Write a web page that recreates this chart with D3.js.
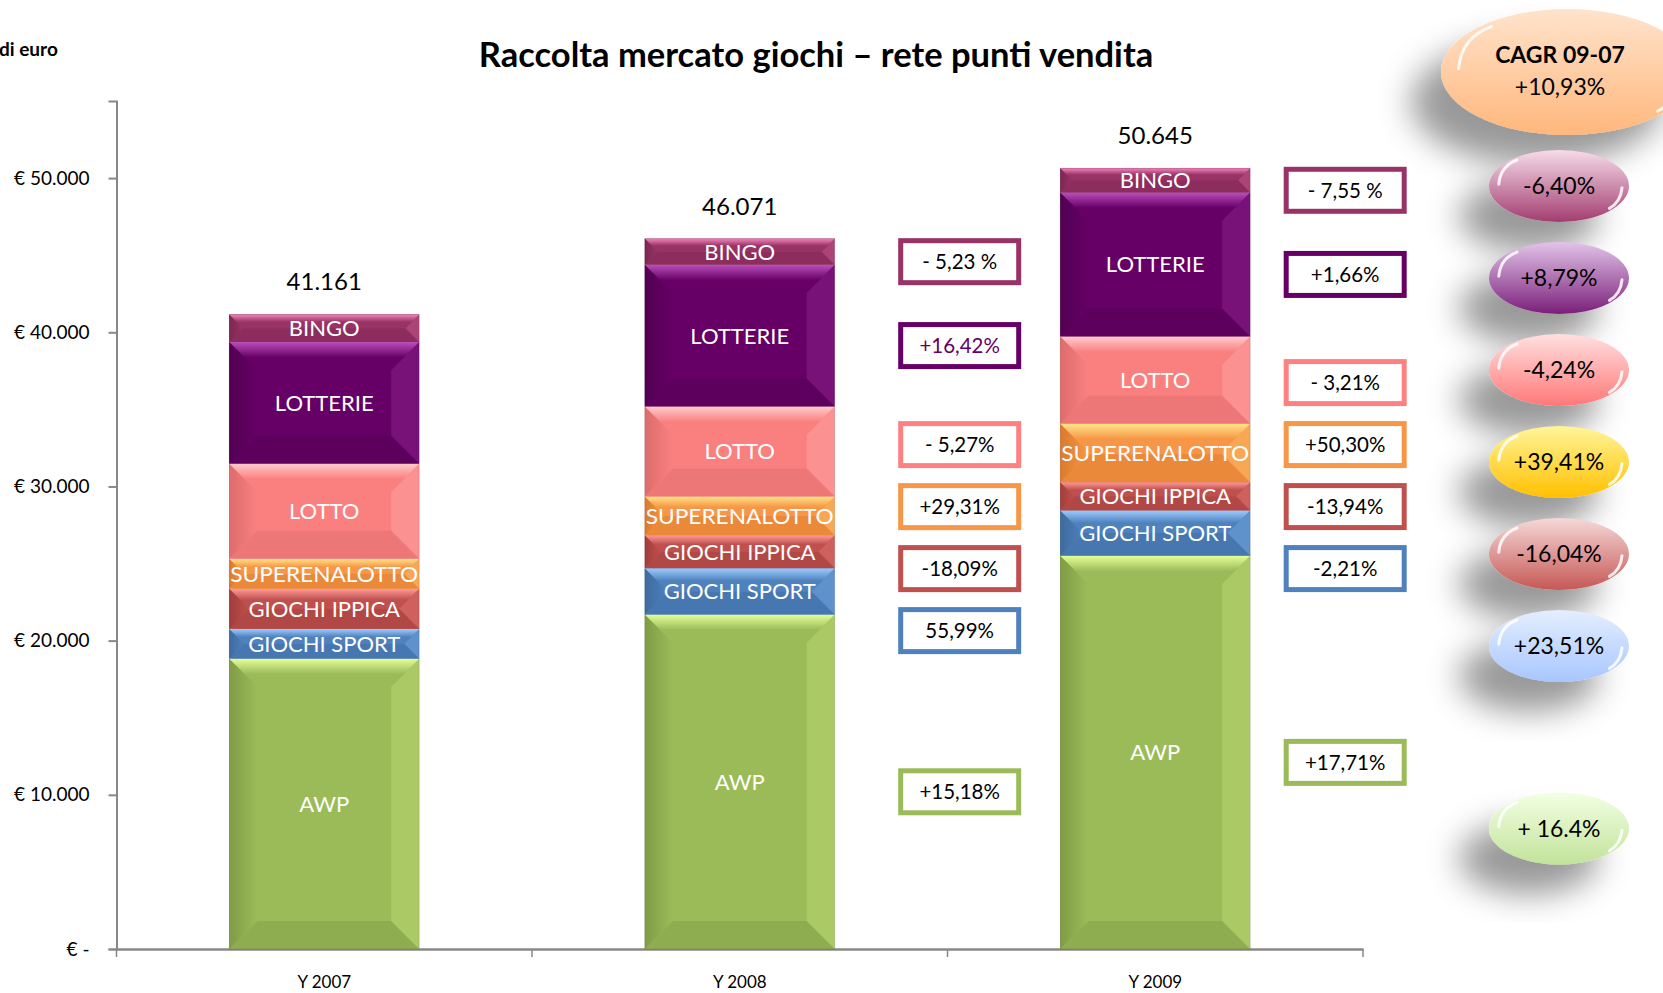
<!DOCTYPE html>
<html>
<head>
<meta charset="utf-8">
<script src="https://cdn.jsdelivr.net/npm/d3@7"></script>
<style>
  body { margin: 0; background: #fff; }
  svg { display: block; font-family: Lato, "Open Sans", sans-serif; }
</style>
</head>
<body>
<svg id="chart" width="1663" height="993"></svg>
<script>
// years on the x axis
var years = ["Y 2007", "Y 2008", "Y 2009"];
// stack order, bottom to top
var games = ["AWP", "GIOCHI SPORT", "GIOCHI IPPICA", "SUPERENALOTTO", "LOTTO", "LOTTERIE", "BINGO"];

// raccolta, milioni di euro
var awp = [18830, 21690, 25505];
var giochiSport = [1930, 3010, 2940];
var giochiIppica = [2600, 2130, 1835];
var superenalotto = [1950, 2520, 3790];
var lotto = [6170, 5840, 5660];
var lotterie = [7890, 9190, 9340];
var bingo = [1790, 1695, 1575];
var totals = [41161, 46071, 50645];

// variation labels, same order as games
var change2008 = ["+15,18%", "55,99%", "-18,09%", "+29,31%", "- 5,27%", "+16,42%", "- 5,23 %"];
var change2009 = ["+17,71%", "-2,21%", "-13,94%", "+50,30%", "- 3,21%", "+1,66%", "- 7,55 %"];
var cagr = ["+ 16.4%", "+23,51%", "-16,04%", "+39,41%", "-4,24%", "+8,79%", "-6,40%"];
var cagrTotal = "+10,93%";

var yTicks = [0, 10000, 20000, 30000, 40000, 50000];

var series = [awp, giochiSport, giochiIppica, superenalotto, lotto, lotterie, bingo];

var colors = {
  "AWP":           { base: "#9bbb59", light: "#e4ff98", dark: "#7f9c45", box: "#9bbb59", b1: "#f2ffe4", b2: "#c3e39a" },
  "GIOCHI SPORT":  { base: "#4f81bd", light: "#9cccff", dark: "#3e6a9f", box: "#4f81bd", b1: "#e4eeff", b2: "#a8c6ff" },
  "GIOCHI IPPICA": { base: "#c0504d", light: "#ff9a98", dark: "#a03e3b", box: "#c0504d", b1: "#f6d8d8", b2: "#c55855" },
  "SUPERENALOTTO": { base: "#f79646", light: "#ffe487", dark: "#d97a2d", box: "#f79646", b1: "#fff59a", b2: "#ffc000" },
  "LOTTO":         { base: "#fa8080", light: "#ffcccc", dark: "#dd6c6c", box: "#ff8080", b1: "#ffe0e0", b2: "#ff7878" },
  "LOTTERIE":      { base: "#660066", light: "#bb4fbb", dark: "#520052", box: "#660066", b1: "#e2c4e8", b2: "#7a1f7a" },
  "BINGO":         { base: "#993366", light: "#f285bb", dark: "#7c2651", box: "#993366", b1: "#f6dcea", b2: "#a23d70" }
};

var svg = d3.select("#chart");
var margin = { left: 116.5, right: 1363, top: 101, bottom: 949 };

var x = d3.scaleBand().domain(years).range([margin.left, margin.right]).paddingInner(0.543).paddingOuter(0.2715);
var y = d3.scaleLinear().domain([0, 55000]).range([margin.bottom, margin.top]);

var defs = svg.append("defs");

// gradients for bevel sides and bubbles
games.forEach(function(g, i) {
  var c = colors[g];
  var top = defs.append("linearGradient").attr("id", "top" + i).attr("x1", 0).attr("y1", 0).attr("x2", 0).attr("y2", 1);
  top.append("stop").attr("offset", 0).attr("stop-color", c.light);
  top.append("stop").attr("offset", 0.55).attr("stop-color", c.base);
  top.append("stop").attr("offset", 1).attr("stop-color", c.base);
  var left = defs.append("linearGradient").attr("id", "left" + i).attr("x1", 0).attr("y1", 0).attr("x2", 1).attr("y2", 0);
  left.append("stop").attr("offset", 0).attr("stop-color", c.dark);
  left.append("stop").attr("offset", 1).attr("stop-color", c.base);
  var bub = defs.append("linearGradient").attr("id", "bub" + i).attr("x1", 0).attr("y1", 0).attr("x2", 0).attr("y2", 1);
  bub.append("stop").attr("offset", 0).attr("stop-color", c.b1);
  bub.append("stop").attr("offset", 1).attr("stop-color", c.b2);
});
var cg = defs.append("linearGradient").attr("id", "bubCagr").attr("x1", 0).attr("y1", 0).attr("x2", 0).attr("y2", 1);
cg.append("stop").attr("offset", 0).attr("stop-color", "#ffe3cc");
cg.append("stop").attr("offset", 1).attr("stop-color", "#ffb77c");

var shadow = defs.append("filter").attr("id", "shadow").attr("x", "-80%").attr("y", "-80%").attr("width", "260%").attr("height", "260%");
shadow.append("feGaussianBlur").attr("in", "SourceAlpha").attr("stdDeviation", 16).attr("result", "blur");
shadow.append("feOffset").attr("in", "blur").attr("dx", -30).attr("dy", 30).attr("result", "off");
shadow.append("feFlood").attr("flood-color", "#000").attr("flood-opacity", 0.4);
shadow.append("feComposite").attr("in2", "off").attr("operator", "in").attr("result", "sh");
var merge = shadow.append("feMerge");
merge.append("feMergeNode").attr("in", "sh");
merge.append("feMergeNode").attr("in", "SourceGraphic");

// title
svg.append("text").attr("x", 816).attr("y", 67).attr("text-anchor", "middle")
  .style("font-weight", "bold").style("font-size", "34.5px").text("Raccolta mercato giochi \u2013 rete punti vendita");
svg.append("text").attr("x", -1).attr("y", 56)
  .style("font-weight", "bold").style("font-size", "19px").text("di euro");

// axes
var fmt = function(v) { return v === 0 ? "\u20ac -" : "\u20ac " + d3.format(",")(v).replace(/,/g, "."); };
var yAxis = svg.append("g").attr("transform", "translate(" + margin.left + ",0)")
  .call(d3.axisLeft(y).tickValues(yTicks).tickSize(8).tickPadding(19).tickFormat(fmt));
yAxis.select(".domain").attr("stroke", "#888").attr("stroke-width", 2);
yAxis.selectAll(".tick line").attr("stroke", "#888").attr("stroke-width", 2);
yAxis.selectAll(".tick text").style("font-size", "19px").style("font-family", "Lato, sans-serif").attr("fill", "#000");

var xAxis = svg.append("g").attr("transform", "translate(0," + margin.bottom + ")")
  .call(d3.axisBottom(x).tickSize(0).tickPadding(27));
xAxis.select(".domain").attr("stroke", "#888").attr("stroke-width", 2.5);
xAxis.selectAll(".tick text").style("font-size", "17px").style("font-family", "Lato, sans-serif").attr("fill", "#000");
var bounds = [margin.left].concat(years.map(function(d) { return x(d) + x.bandwidth() + x.step() * x.paddingInner() / 2; }));
bounds[bounds.length - 1] = margin.right;
xAxis.selectAll(".sep").data(bounds).enter().append("line")
  .attr("x1", function(d) { return d; }).attr("x2", function(d) { return d; })
  .attr("y1", 0).attr("y2", 8).attr("stroke", "#888").attr("stroke-width", 1.5);

// stacked data
var rows = years.map(function(yr, j) {
  var r = { year: yr };
  games.forEach(function(g, i) { r[g] = series[i][j]; });
  return r;
});
var stack = d3.stack().keys(games)(rows);

var bevel = 28;
function drawSegment(sel, x0, y0, w, h, i) {
  var c = colors[games[i]];
  var b = Math.min(bevel, h / 2, w / 2);
  var x1 = x0 + w, y1 = y0 + h;
  sel.append("rect").attr("x", x0).attr("y", y0).attr("width", w).attr("height", h).attr("fill", c.base);
  sel.append("polygon").attr("points", [[x0, y1], [x1, y1], [x1 - b, y1 - b], [x0 + b, y1 - b]].join(" "))
    .attr("fill", c.dark).attr("opacity", 0.45);
  sel.append("polygon").attr("points", [[x1, y0], [x1, y1], [x1 - b, y1 - b], [x1 - b, y0 + b]].join(" "))
    .attr("fill", c.light).attr("opacity", 0.22);
  sel.append("polygon").attr("points", [[x0, y0], [x0, y1], [x0 + b, y1 - b], [x0 + b, y0 + b]].join(" "))
    .attr("fill", "url(#left" + i + ")");
  sel.append("polygon").attr("points", [[x0, y0], [x1, y0], [x1 - b, y0 + b], [x0 + b, y0 + b]].join(" "))
    .attr("fill", "url(#top" + i + ")");
}

var bars = svg.append("g");
stack.forEach(function(layer, i) {
  layer.forEach(function(d, j) {
    var g = bars.append("g");
    var x0 = x(years[j]), w = x.bandwidth();
    var yt = y(d[1]), h = y(d[0]) - y(d[1]);
    drawSegment(g, x0, yt, w, h, i);
    g.append("text").attr("x", x0 + w / 2).attr("y", yt + h / 2).attr("dy", "0.36em")
      .attr("text-anchor", "middle").attr("fill", "#fff").style("font-size", "22px")
      .attr("textLength", games[i] === "SUPERENALOTTO" ? w - 2 : null)
      .attr("lengthAdjust", "spacingAndGlyphs")
      .text(games[i]);
  });
});
bars.selectAll(".outline").data(years).enter().append("rect")
  .attr("x", function(d) { return x(d); }).attr("y", function(d, j) { return y(totals[j]); })
  .attr("width", x.bandwidth()).attr("height", function(d, j) { return y(0) - y(totals[j]); })
  .attr("fill", "none").attr("stroke", "#000").attr("stroke-opacity", 0.12);

// totals
svg.selectAll(".total").data(totals).enter().append("text")
  .attr("x", function(d, j) { return x(years[j]) + x.bandwidth() / 2; })
  .attr("y", function(d) { return y(d) - 24; })
  .attr("text-anchor", "middle").style("font-size", "24px")
  .text(function(d) { return d3.format(",")(d).replace(/,/g, "."); });

// push label centres apart so they keep a minimum gap
function spread(centres, gap) {
  var groups = centres.map(function(c) { return { sum: c, n: 1, start: c }; });
  var changed = true;
  while (changed) {
    changed = false;
    for (var k = 0; k < groups.length - 1; k++) {
      var a = groups[k], b = groups[k + 1];
      var aEnd = a.start + (a.n - 1) * gap;
      if (b.start - aEnd < gap) {
        var g = { sum: a.sum + b.sum, n: a.n + b.n };
        var sumOff = 0;
        for (var m = 0; m < g.n; m++) sumOff += m * gap;
        g.start = (g.sum - sumOff) / g.n;
        groups.splice(k, 2, g);
        changed = true;
        break;
      }
    }
  }
  var out = [];
  groups.forEach(function(g) { for (var m = 0; m < g.n; m++) out.push(g.start + m * gap); });
  return out;
}

// boxes with the yearly variation (top to bottom order for spreading)
function boxes(labels, j, cx) {
  var mids = stack.map(function(layer) { return (y(layer[j][0]) + y(layer[j][1])) / 2; });
  var order = d3.range(games.length).reverse();
  var placed = spread(order.map(function(i) { return mids[i] + 10; }), 62);
  var g = svg.append("g");
  order.forEach(function(i, k) {
    var cy = placed[k];
    g.append("rect").attr("x", cx - 59).attr("y", cy - 21).attr("width", 118).attr("height", 42)
      .attr("fill", "#fff").attr("stroke", colors[games[i]].box).attr("stroke-width", 5);
    g.append("text").attr("x", cx).attr("y", cy).attr("dy", "0.36em").attr("text-anchor", "middle")
      .style("font-size", "20.5px").attr("fill", games[i] === "LOTTERIE" && j === 1 ? "#660066" : "#000")
      .text(labels[i]);
  });
}
boxes(change2008, 1, x(years[1]) + x.bandwidth() + 125);
boxes(change2009, 2, x(years[2]) + x.bandwidth() + 95);

// CAGR bubbles
var bx = 1559;
var bubbles = svg.append("g");
var cagrMids = stack.map(function(layer) { return (y(layer[2][0]) + y(layer[2][1])) / 2; });
var bOrder = d3.range(games.length).reverse();
var bPlaced = spread(bOrder.map(function(i) { return cagrMids[i] + 15; }), 92);
var shift = 186 - bPlaced[0];
function bubble(cx, cy, rx, ry, fill) {
  var g = bubbles.append("g");
  g.append("ellipse").attr("cx", cx).attr("cy", cy).attr("rx", rx).attr("ry", ry)
    .attr("fill", fill).attr("filter", "url(#shadow)");
  g.append("path").attr("d", "M" + (cx - rx * 0.86) + "," + (cy - ry * 0.05) +
      " Q" + (cx - rx * 0.84) + "," + (cy - ry * 0.55) + " " + (cx - rx * 0.6) + "," + (cy - ry * 0.72))
    .attr("fill", "none").attr("stroke", "#fff").attr("stroke-width", 3).attr("stroke-linecap", "round").attr("opacity", 0.85);
  g.append("path").attr("d", "M" + (cx + rx * 0.9) + "," + (cy + ry * 0.05) +
      " Q" + (cx + rx * 0.88) + "," + (cy + ry * 0.45) + " " + (cx + rx * 0.72) + "," + (cy + ry * 0.62))
    .attr("fill", "none").attr("stroke", "#fff").attr("stroke-width", 3).attr("stroke-linecap", "round").attr("opacity", 0.85);
  return g;
}
var head = bubble(1567, 72, 126, 63, "url(#bubCagr)");
head.append("text").attr("x", 1560).attr("y", 63).attr("text-anchor", "middle")
  .style("font-weight", "bold").style("font-size", "23px").text("CAGR 09-07");
head.append("text").attr("x", 1560).attr("y", 95).attr("text-anchor", "middle")
  .style("font-size", "23px").text(cagrTotal);

bOrder.forEach(function(i, k) {
  var cy = bPlaced[k] + shift;
  if (games[i] === "AWP") cy = Math.max(cy, cagrMids[i] + 76);
  var g = bubble(bx, cy, 70, 36, "url(#bub" + i + ")");
  g.append("text").attr("x", bx).attr("y", cy).attr("dy", "0.36em").attr("text-anchor", "middle")
    .style("font-size", "23px").text(cagr[i]);
});
</script>
</body>
</html>
